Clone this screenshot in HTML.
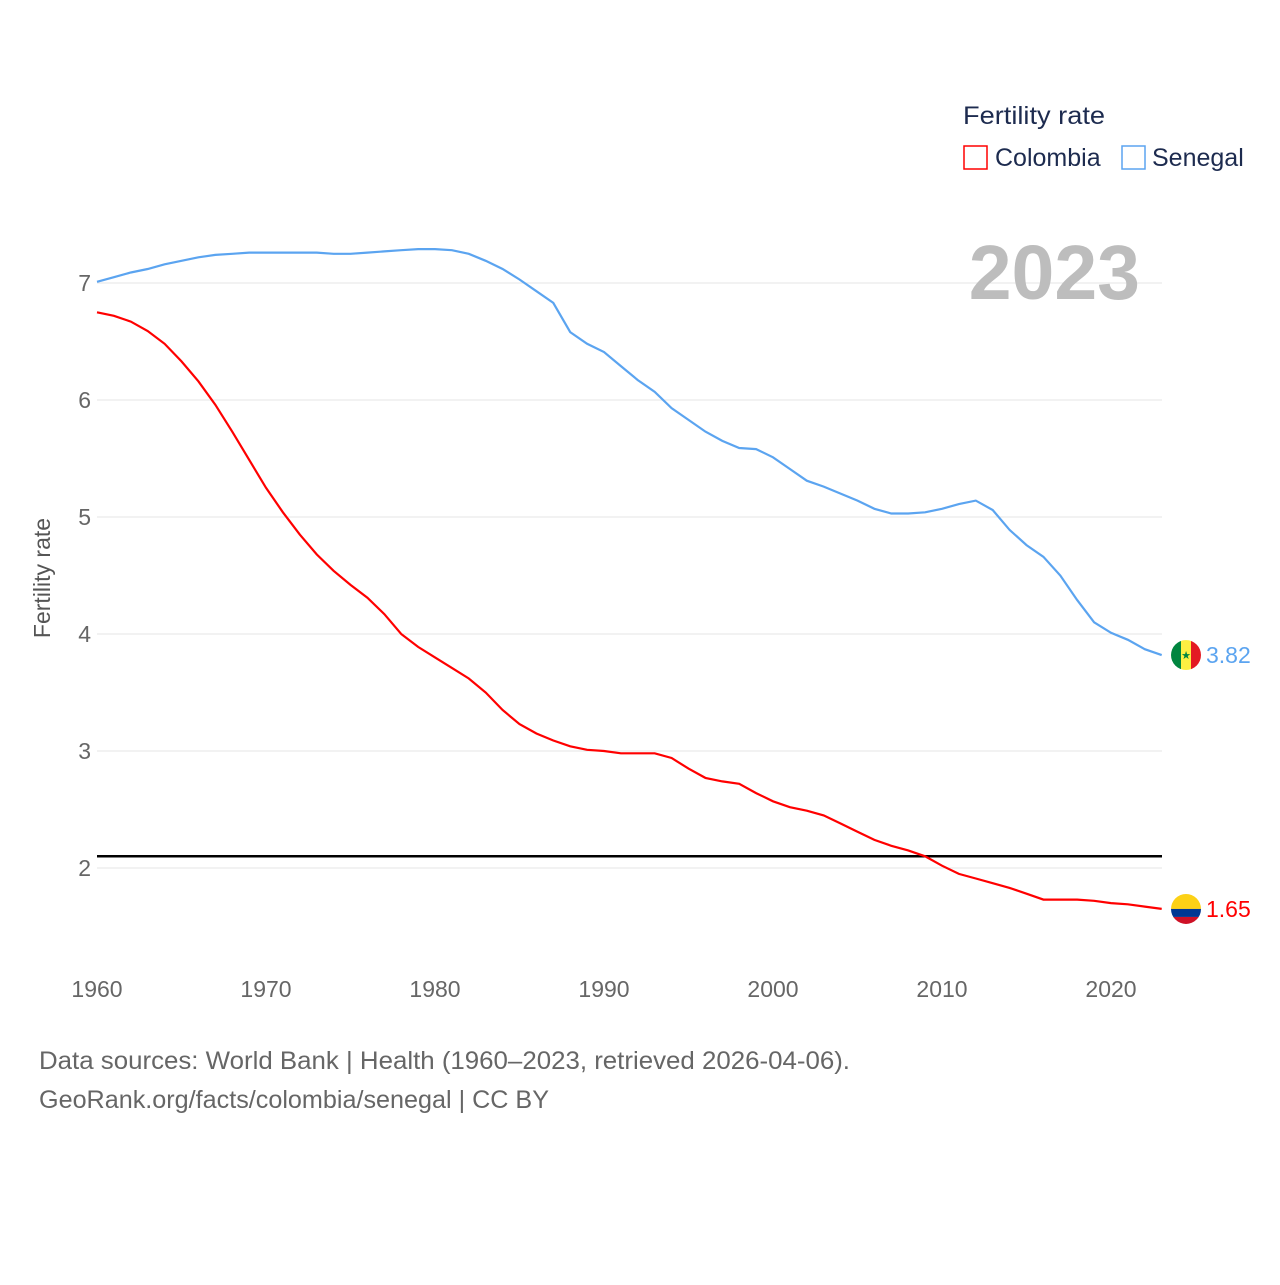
<!DOCTYPE html>
<html><head><meta charset="utf-8"><style>
body{margin:0;background:#fff;font-family:"Liberation Sans",sans-serif;}
svg text{font-family:"Liberation Sans",sans-serif;}
</style></head><body>
<svg id="chart" width="1280" height="1280" viewBox="0 0 1280 1280" xmlns="http://www.w3.org/2000/svg">
<g id="grid"></g>
<g id="lines"></g>
<text x="1140" y="299" text-anchor="end" font-size="77" font-weight="bold" fill="#bdbdbd">2023</text>
<text transform="translate(50,578) rotate(-90)" text-anchor="middle" font-size="23" fill="#555">Fertility rate</text>
<g>
<text x="963" y="124" font-size="25" fill="#1d2b4f" textLength="142" lengthAdjust="spacingAndGlyphs">Fertility rate</text>
<rect x="964" y="146" width="23" height="23" fill="none" stroke="#f00" stroke-width="1.5"/>
<text x="995" y="166" font-size="25" fill="#1d2b4f">Colombia</text>
<rect x="1122" y="146" width="23" height="23" fill="none" stroke="#5ba4f0" stroke-width="1.5"/>
<text x="1152" y="166" font-size="25" fill="#1d2b4f">Senegal</text>
</g>
<text x="39" y="1069" font-size="25" fill="#666" textLength="811" lengthAdjust="spacingAndGlyphs">Data sources: World Bank | Health (1960–2023, retrieved 2026-04-06).</text>
<text x="39" y="1108" font-size="25" fill="#666" textLength="510" lengthAdjust="spacingAndGlyphs">GeoRank.org/facts/colombia/senegal | CC BY</text>
</svg>
<script>
const years=[];for(let y=1960;y<=2023;y++)years.push(y);
const senegal=[7.01,7.05,7.09,7.12,7.16,7.19,7.22,7.24,7.25,7.26,7.26,7.26,7.26,7.26,7.25,7.25,7.26,7.27,7.28,7.29,7.29,7.28,7.25,7.19,7.12,7.03,6.93,6.83,6.58,6.48,6.41,6.29,6.17,6.07,5.93,5.83,5.73,5.65,5.59,5.58,5.51,5.41,5.31,5.26,5.20,5.14,5.07,5.03,5.03,5.04,5.07,5.11,5.14,5.06,4.89,4.76,4.66,4.50,4.29,4.10,4.01,3.95,3.87,3.82];
const colombia=[6.75,6.72,6.67,6.59,6.48,6.33,6.16,5.96,5.73,5.49,5.25,5.04,4.85,4.68,4.54,4.42,4.31,4.17,4.00,3.89,3.80,3.71,3.62,3.50,3.35,3.23,3.15,3.09,3.04,3.01,3.00,2.98,2.98,2.98,2.94,2.85,2.77,2.74,2.72,2.64,2.57,2.52,2.49,2.45,2.38,2.31,2.24,2.19,2.15,2.10,2.02,1.95,1.91,1.87,1.83,1.78,1.73,1.73,1.73,1.72,1.70,1.69,1.67,1.65];
const yTicks=[2,3,4,5,6,7];
const xTicks=[1960,1970,1980,1990,2000,2010,2020];
const refLine=2.1;
const NS="http://www.w3.org/2000/svg";
const x=v=>97+(v-1960)*16.9;
const y=v=>283+(7-v)*117;
const grid=document.getElementById('grid'),lines=document.getElementById('lines');
function mk(t,a,p){const e=document.createElementNS(NS,t);for(const k in a)e.setAttribute(k,a[k]);p.appendChild(e);return e;}
yTicks.forEach(t=>{
 const l=mk('line',{x1:97,x2:1162,y1:y(t),y2:y(t),stroke:'#e6e6e6','stroke-width':1},grid);
 
 
 const tx=mk('text',{x:91,y:y(t)+8,'text-anchor':'end','font-size':23,fill:'#666'},grid);
 tx.textContent=t;
 
 
});
xTicks.forEach(t=>{
 const tx=mk('text',{x:x(t),y:997,'text-anchor':'middle','font-size':23,fill:'#666'},grid);
 tx.textContent=t;
 
 
});
const rl=mk('line',{x1:97,x2:1162,y1:y(refLine),y2:y(refLine),stroke:'#000','stroke-width':2.5},lines);


function series(vals,color,name){
 const d=vals.map((v,i)=>(i?'L':'M')+x(years[i]).toFixed(1)+','+y(v).toFixed(1)).join('');
 const p=mk('path',{d:d,fill:'none',stroke:color,'stroke-width':2.2},lines);
 
 
 const last=vals[vals.length-1];
 const cx=1186,cy=y(last);
 const g=mk('g',{},lines);
 
 
 mk('clipPath',{id:'c'+name},g);
 mk('circle',{cx:cx,cy:cy,r:15},g.lastChild);
 const cg=mk('g',{'clip-path':'url(#c'+name+')'},g);
 if(name==='senegal'){
  mk('rect',{x:cx-15,y:cy-15,width:10,height:30,fill:'#00853f'},cg);
  mk('rect',{x:cx-5,y:cy-15,width:10,height:30,fill:'#fdef42'},cg);
  mk('rect',{x:cx+5,y:cy-15,width:10,height:30,fill:'#e31b23'},cg);
  const s=mk('text',{x:cx,y:cy+4,'text-anchor':'middle','font-size':11,fill:'#00853f'},cg);s.textContent='★';
 }else{
  mk('rect',{x:cx-15,y:cy-15,width:30,height:15,fill:'#fcd116'},cg);
  mk('rect',{x:cx-15,y:cy,width:30,height:8,fill:'#003893'},cg);
  mk('rect',{x:cx-15,y:cy+8,width:30,height:8,fill:'#ce1126'},cg);
 }
 const t=mk('text',{x:1206,y:cy+8,'font-size':23,fill:color},lines);
 t.textContent=last.toFixed(2);
 
 
}
series(senegal,'#5ba4f0','senegal');
series(colombia,'#f00','colombia');
</script>
</body></html>
